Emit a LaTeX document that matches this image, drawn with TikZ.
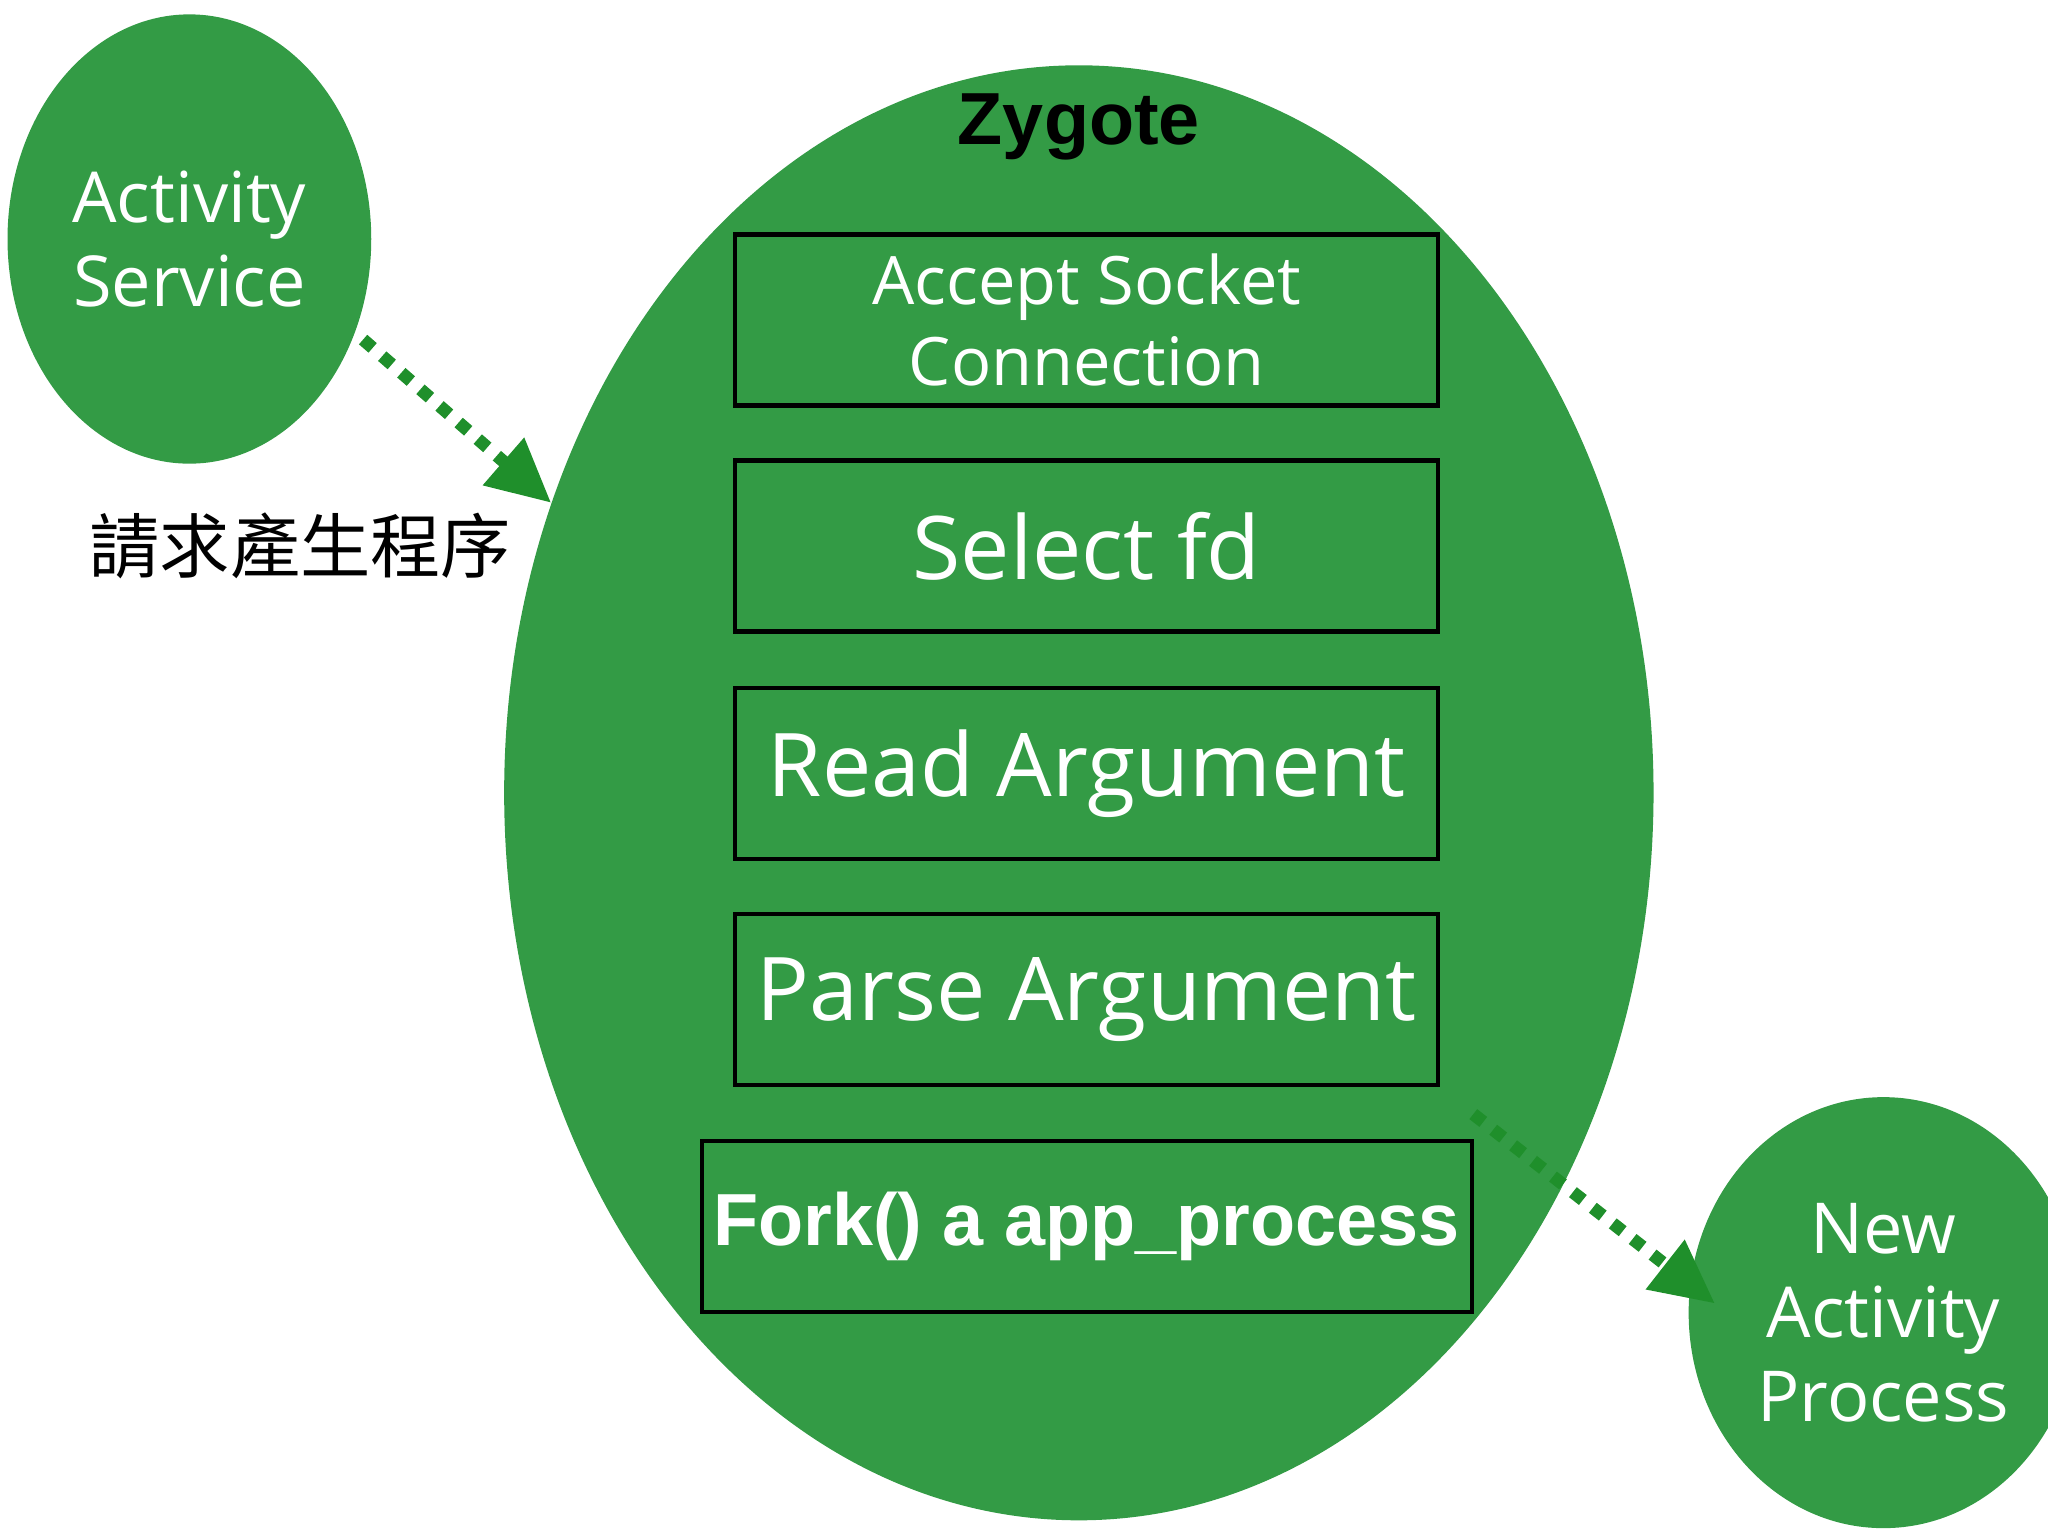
\documentclass[tikz,border=0pt]{standalone}
\usepackage{fontspec}
\setmainfont{Open Sans}
\newfontfamily\bfsans{Liberation Sans}
\newfontfamily\cjk{Noto Sans CJK TC}
\usetikzlibrary{shapes.geometric,arrows.meta}
\definecolor{zg}{HTML}{339B45}
\definecolor{ag}{HTML}{1F8F2B}
\begin{document}
\begin{tikzpicture}[x=0.013061cm,y=-0.013061cm,
  blob/.style={ellipse,fill=zg,draw=none,text=white,align=center,font=\fontsize{20}{24}\selectfont},
  box/.style={draw=black,line width=1.2pt,minimum width=538*0.013061cm,minimum height=131*0.013061cm,text=white,align=center},
  darr/.style={ag,line width=3.6pt,dash pattern=on 3.6pt off 3.6pt,-{Triangle[length=18pt,width=17pt]}}]
\useasboundingbox (0,0) rectangle (1568,1176);
\node[blob,minimum width=264*0.013061cm,minimum height=344*0.013061cm] (as) at (145,183) {Activity\\Service};
\node[blob,minimum width=880*0.013061cm,minimum height=1114*0.013061cm] (zy) at (826,607) {};
\node[font=\bfsans\bfseries\fontsize{21}{24}\selectfont] (zt) at (826,97) {Zygote};
\node[box,font=\fontsize{19}{23}\selectfont] (b1) at (832,245) {Accept Socket\\Connection};
\node[box,font=\fontsize{25}{28}\selectfont] (b2) at (832,418) {Select fd};
\node[box,font=\fontsize{25}{28}\selectfont] (b3) at (832,592) {Read Argument};
\node[box,font=\fontsize{25}{28}\selectfont] (b4) at (832,765) {Parse Argument};
\node[box,font=\bfsans\bfseries\fontsize{21}{24}\selectfont] (b5) at (832,939) {Fork() a app\_process};
\node[blob,minimum width=224*0.013061cm,minimum height=330*0.013061cm] (np) at (1442,1005) {New\\Activity\\Process};
\node[font=\cjk\fontsize{20}{24}\selectfont] (lbl) at (230,418) {請求產生程序};
\coordinate (a1s) at (278,260); \coordinate (a1e) at (422,385);
\coordinate (a2s) at (1128,853); \coordinate (a2e) at (1313,998);
\draw[darr] (a1s) -- (a1e);
\draw[darr] (a2s) -- (a2e);
\end{tikzpicture}
\end{document}
